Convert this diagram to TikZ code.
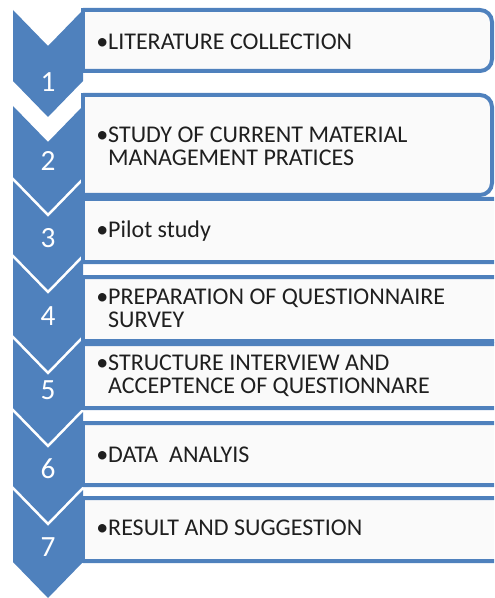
\documentclass[tikz,border=0pt]{standalone}
\usepackage{fontspec}
\setmainfont{Carlito}
\definecolor{chevblue}{HTML}{4F81BD}
\definecolor{boxfill}{HTML}{FAFAFA}
\tikzset{
boxline/.style={draw=chevblue, line width=3pt, fill=boxfill},
itemtext/.style={anchor=west, inner sep=0pt, align=left, text=black!88, font=\fontsize{18}{17}\selectfont},
number/.style={inner sep=0pt, text=white, font=\fontsize{22}{24}\selectfont}
}
% top of the chevron, bottom of its straight part
\def\drawChevron#1#2{
\fill[chevblue] (13,#1) -- (48,#1+36) -- (83,#1) -- (83,#2) -- (48,#2+36) -- (13,#2) -- cycle;
}
% box with round corners on the right: top, bottom, right edge
\def\drawBox#1#2#3{
\path[boxline, rounded corners=9] (83,#1) -- (#3,#1) -- (#3,#2) -- (83,#2);
\draw[chevblue, line width=3pt, line cap=rect] (83,#1) -- (83,#2);
}

\begin{document}
\begin{tikzpicture}[x=0.75pt, y=-0.75pt]
\useasboundingbox (0,0) rectangle (494,598);
\clip (0,0) rectangle (494,598);
\drawChevron{10}{81}
\drawChevron{106}{177}
\drawChevron{181}{254}
\drawChevron{258}{335}
\drawChevron{339}{408}
\drawChevron{412}{486}
\drawChevron{490}{562}
\drawBox{10}{71}{492}
\drawBox{95}{195}{492}
\drawBox{199}{262}{510}
\drawBox{277}{341}{510}
\drawBox{344}{408}{510}
\drawBox{423}{485}{510}
\drawBox{498}{561}{510}
\node[number] (n1) at (48,82) {1};
\node[number] (n2) at (48,161) {2};
\node[number] (n3) at (48,238) {3};
\node[number] (n4) at (48,316) {4};
\node[number] (n5) at (48,390) {5};
\node[number] (n6) at (48,469) {6};
\node[number] (n7) at (48,547) {7};
\node[itemtext] (s1) at (96,42) {•LITERATURE COLLECTION};
\node[itemtext] (s2) at (96,146) {•STUDY OF CURRENT MATERIAL\\\hphantom{•}MANAGEMENT PRATICES};
\node[itemtext] (s3) at (96,231) {•Pilot study};
\node[itemtext] (s4) at (96,308) {•PREPARATION OF QUESTIONNAIRE\\\hphantom{•}SURVEY};
\node[itemtext] (s5) at (96,376) {•STRUCTURE INTERVIEW AND\\\hphantom{•}ACCEPTENCE OF QUESTIONNARE};
\node[itemtext] (s6) at (96,455) {•DATA\ \ ANALYIS};
\node[itemtext] (s7) at (96,528) {•RESULT AND SUGGESTION};
\end{tikzpicture}
\end{document}
